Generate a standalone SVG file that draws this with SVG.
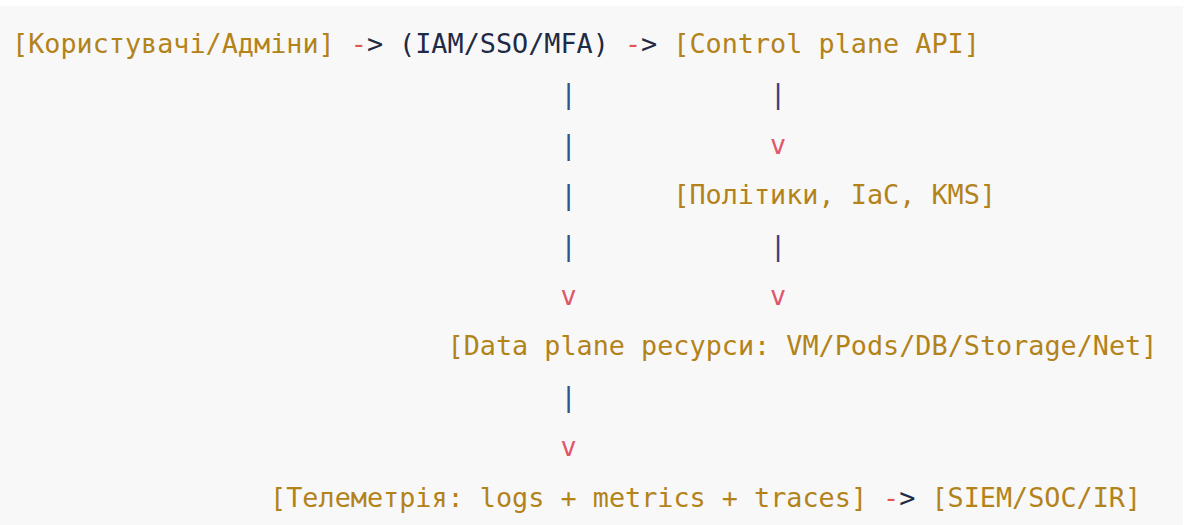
<svg xmlns="http://www.w3.org/2000/svg" width="1185" height="525" viewBox="0 0 1185 525">
  <style>
    text { font-family: "DejaVu Sans Mono", "Liberation Mono", monospace; font-size: 26.8px; white-space: pre; }
    .str { fill: #b3831a; }
    .plain { fill: #1f2a44; }
    .dash { fill: #e45649; }
    .pipeL { fill: #2d528c; }
    .pipeR { fill: #3d3a7a; }
    .head { fill: #e0566b; }
  </style>
  <rect x="0" y="0" width="1185" height="525" fill="#ffffff"/>
  <rect x="0" y="6" width="1183" height="519" fill="#f8f8f8"/>

  <!-- nodes -->
  <g id="users"><text class="str" x="12" y="53">[Користувачі/Адміни]</text></g>
  <g id="iam"><text class="plain" x="399.1" y="53">(IAM/SSO/MFA)</text></g>
  <g id="control-plane"><text class="str" x="673.3" y="53">[Control plane API]</text></g>
  <g id="policies"><text class="str" x="673.3" y="204.2">[Політики, IaC, KMS]</text></g>
  <g id="data-plane"><text class="str" x="447.5" y="355.4">[Data plane ресурси: VM/Pods/DB/Storage/Net]</text></g>
  <g id="telemetry"><text class="str" x="270.1" y="506.6">[Телеметрія: logs + metrics + traces]</text></g>
  <g id="siem"><text class="str" x="931.4" y="506.6">[SIEM/SOC/IR]</text></g>

  <!-- connectors -->
  <g id="connectors">
    <text class="dash" x="350.7" y="53">-</text><text class="plain" x="366.9" y="53">&gt;</text>
    <text class="dash" x="624.9" y="53">-</text><text class="plain" x="641.1" y="53">&gt;</text>

    <text class="pipeL" x="560.4" y="103.4">|</text>
    <text class="pipeL" x="560.4" y="153.8">|</text>
    <text class="pipeL" x="560.4" y="204.2">|</text>
    <text class="pipeL" x="560.4" y="254.6">|</text>
    <text class="head" x="560.4" y="305">v</text>

    <text class="pipeR" x="770.1" y="103.4">|</text>
    <text class="head" x="770.1" y="153.8">v</text>
    <text class="pipeR" x="770.1" y="254.6">|</text>
    <text class="head" x="770.1" y="305">v</text>

    <text class="pipeL" x="560.4" y="405.8">|</text>
    <text class="head" x="560.4" y="456.2">v</text>

    <text class="dash" x="883" y="506.6">-</text><text class="plain" x="899.2" y="506.6">&gt;</text>
  </g>
</svg>
